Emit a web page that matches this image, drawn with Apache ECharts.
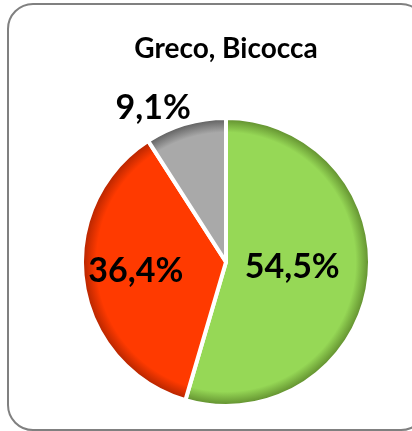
<!DOCTYPE html>
<html>
<head>
<meta charset="utf-8">
<script src="https://cdn.jsdelivr.net/npm/echarts@6/dist/echarts.min.js"></script>
<style>
  html, body { margin: 0; padding: 0; background: #fff; overflow: hidden; }
  #frame {
    position: absolute; left: 7px; top: 3px; width: 416px; height: 424px;
    border: 2px solid #808080; border-radius: 26px; background: #fff;
  }
  #chart { position: absolute; left: 0; top: 0; width: 412px; height: 431px; }
</style>
</head>
<body>
<div id="frame"></div>
<div id="chart"></div>
<script>
const title = 'Greco, Bicocca';
const categories = ['Verde', 'Rosso', 'Grigio'];
const values = [6, 4, 1];
const colors = ['#96d856', '#ff3a00', '#a9a9a9'];
const rimColors = ['#5e8a2c', '#b02400', '#5a5a5a'];

const cx = 226, cy = 262, r = 144;

const fmt = (p) => p.percent.toFixed(1).replace('.', ',') + '%';

const chart = echarts.init(document.getElementById('chart'), null, { renderer: 'canvas' });

const data = categories.map((name, i) => ({
  name: name,
  value: values[i],
  itemStyle: {
    color: {
      type: 'radial', x: cx, y: cy, r: r, global: true,
      colorStops: [
        { offset: 0, color: colors[i] },
        { offset: 0.9, color: colors[i] },
        { offset: 1, color: rimColors[i] }
      ]
    }
  }
}));
// gray slice: label sits outside, above
data[2].label = { position: 'outside', distance: 0, offset: [12, -10] };
data[2].labelLine = { show: false, length: 6, length2: 0 };
data[1].label = { offset: [-16, -2] };
data[0].label = { offset: [-8, -6] };

chart.setOption({
  backgroundColor: 'transparent',
  animation: false,
  title: {
    text: title,
    left: 221, top: 30, textAlign: 'center',
    textStyle: { fontFamily: 'Lato', fontWeight: 'bold', fontSize: 28, color: '#000' }
  },
  series: [{
    type: 'pie',
    center: [cx, cy],
    radius: [0, r],
    startAngle: 90,
    clockwise: true,
    data: data,
    itemStyle: { borderColor: '#fff', borderWidth: 4 },
    label: {
      show: true,
      position: 'inside',
      formatter: fmt,
      fontFamily: 'Lato',
      fontWeight: 'bold',
      fontSize: 34,
      color: '#000'
    },
    labelLine: { show: false }
  }]
});
</script>
</body>
</html>
